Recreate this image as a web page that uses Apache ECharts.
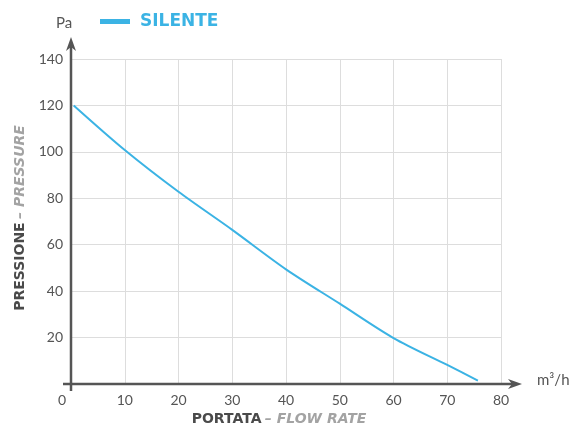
<!DOCTYPE html>
<html>
<head>
<meta charset="utf-8">
<script src="https://cdn.jsdelivr.net/npm/echarts@6/dist/echarts.min.js"></script>
<style>html,body{margin:0;padding:0;background:#fff;}#c{width:574px;height:432px;}</style>
</head>
<body>
<div id="c"></div>
<script>
const seriesName = 'SILENTE';
const flowRate = [0.5, 10, 20, 30, 40, 50, 60, 70, 75.7];
const pressure = [120, 100.8, 82.8, 66.4, 49.4, 34.6, 19.8, 8.2, 1.5];
const xTicks = [0, 10, 20, 30, 40, 50, 60, 70, 80];
const yTicks = [0, 20, 40, 60, 80, 100, 120, 140];
const yUnit = 'Pa';
const xUnit = 'm³/h';
const yTitleMain = 'PRESSIONE';
const yTitleSub = '– PRESSURE';
const xTitleMain = 'PORTATA';
const xTitleSub = '– FLOW RATE';

const BLUE = '#3bb3e4';
const AXIS = '#555555';
const chart = echarts.init(document.getElementById('c'), null, {renderer: 'canvas'});
const data = flowRate.map((x, i) => [x, pressure[i]]);

chart.setOption({
  animation: false,
  grid: {left: 71, right: 73, top: 59, bottom: 48},
  legend: {
    show: true, left: 95, top: 8, icon: 'rect', itemWidth: 30, itemHeight: 5,
    data: [seriesName],
    textStyle: {color: BLUE, fontFamily: 'DejaVu Sans', fontWeight: 'bold', fontSize: 17, padding: [0, 0, 0, 5]}
  },
  xAxis: {
    type: 'value', min: xTicks[0], max: xTicks[xTicks.length - 1], interval: 10,
    axisLine: {show: false}, axisTick: {show: false},
    axisLabel: {
      color: AXIS, fontFamily: 'Lato', fontSize: 14, margin: 9,
      formatter: v => v === 0 ? '{z|0}' : String(v),
      rich: {z: {color: AXIS, fontFamily: 'Lato', fontSize: 14, padding: [0, 18, 0, 0]}}
    },
    splitLine: {show: true, lineStyle: {color: '#dddddd', width: 1}}
  },
  yAxis: {
    type: 'value', min: yTicks[0], max: yTicks[yTicks.length - 1], interval: 20,
    axisLine: {show: false}, axisTick: {show: false},
    axisLabel: {color: AXIS, fontFamily: 'Lato', fontSize: 14, margin: 8,
      formatter: v => v === 0 ? '' : String(v)},
    splitLine: {show: true, lineStyle: {color: '#dddddd', width: 1}}
  },
  series: [{
    name: seriesName, type: 'line', data: data, smooth: 0.3, showSymbol: false,
    lineStyle: {color: BLUE, width: 2}, itemStyle: {color: BLUE}
  }]
});

const o = chart.convertToPixel({gridIndex: 0}, [xTicks[0], yTicks[0]]);
const e = chart.convertToPixel({gridIndex: 0}, [xTicks[xTicks.length - 1], yTicks[yTicks.length - 1]]);
const xTip = e[0] + 21, yTip = e[1] - 22;
const midX = (o[0] + e[0]) / 2, midY = (o[1] + e[1]) / 2;
const titleRich = {
  a: {fill: '#4a4a4a', fontFamily: 'DejaVu Sans', fontWeight: 'bold', fontSize: 14},
  b: {fill: '#a3a3a3', fontFamily: 'DejaVu Sans', fontWeight: 'bold', fontStyle: 'italic', fontSize: 14}
};

chart.setOption({
  graphic: [
    {type: 'line', shape: {x1: o[0] - 8, y1: o[1], x2: xTip - 8, y2: o[1]}, style: {stroke: AXIS, lineWidth: 2.5}, z: 10},
    {type: 'polygon', shape: {points: [[xTip, o[1]], [xTip - 14, o[1] - 5], [xTip - 10, o[1]], [xTip - 14, o[1] + 5]]}, style: {fill: AXIS}, z: 10},
    {type: 'line', shape: {x1: o[0], y1: o[1] + 7, x2: o[0], y2: yTip + 8}, style: {stroke: AXIS, lineWidth: 2.5}, z: 10},
    {type: 'polygon', shape: {points: [[o[0], yTip], [o[0] - 5, yTip + 14], [o[0], yTip + 10], [o[0] + 5, yTip + 14]]}, style: {fill: AXIS}, z: 10},
    {type: 'text', x: o[0] - 7, y: yTip - 6, style: {text: yUnit, fill: AXIS, font: '15px Lato', align: 'center', verticalAlign: 'bottom'}},
    {type: 'text', x: xTip + 15, y: o[1] - 4, style: {text: xUnit, fill: AXIS, font: '15px Lato', align: 'left', verticalAlign: 'middle'}},
    {type: 'text', x: midX - 7, y: o[1] + 35, style: {
      text: '{a|' + xTitleMain + '} {b|' + xTitleSub + '}', align: 'center', verticalAlign: 'middle', rich: titleRich}},
    {type: 'text', x: 20, y: 218, rotation: Math.PI / 2, style: {
      text: '{a|' + yTitleMain + '} {b|' + yTitleSub + '}', align: 'center', verticalAlign: 'middle', rich: titleRich}}
  ]
});
</script>
</body>
</html>
